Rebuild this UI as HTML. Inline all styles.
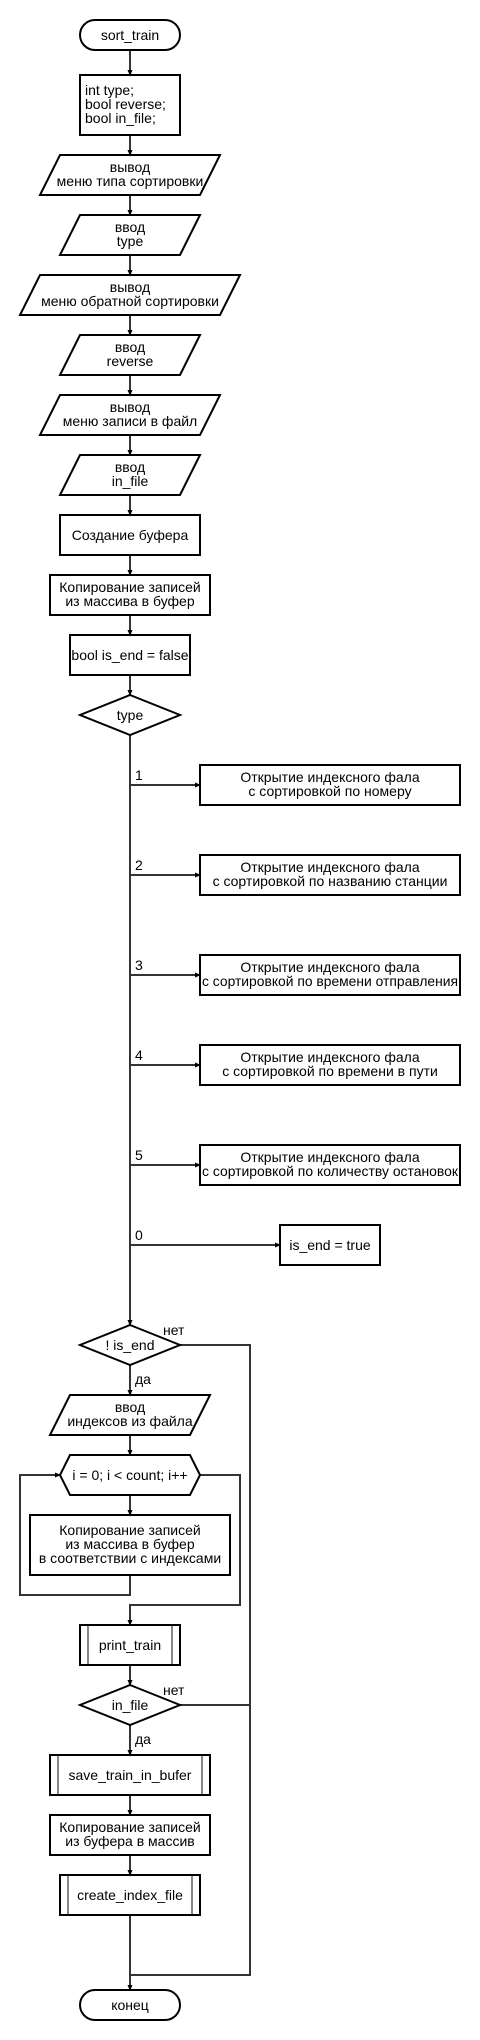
<!DOCTYPE html>
<html><head><meta charset="utf-8"><style>
html,body{margin:0;padding:0;background:#fff;}
svg{display:block;}
text{font-family:"Liberation Sans","DejaVu Sans",sans-serif;font-size:14px;fill:#000;}
.s{fill:#fff;stroke:#000;stroke-width:2;}
.c{fill:none;stroke:#333;stroke-width:2;}
.g{stroke:#888;stroke-width:2;}
</style></head><body>
<svg width="480" height="2040" viewBox="0 0 480 2040" xmlns="http://www.w3.org/2000/svg">
<defs><marker id="a" markerWidth="6" markerHeight="6" refX="5" refY="3" orient="auto" markerUnits="userSpaceOnUse"><path d="M0,0.5 L6,3 L0,5.5 z" fill="#000"/></marker></defs>
<!-- connectors main -->
<g class="c" marker-end="url(#a)">
<path d="M130,50 V75"/><path d="M130,135 V155"/><path d="M130,195 V215"/><path d="M130,255 V275"/>
<path d="M130,315 V335"/><path d="M130,375 V395"/><path d="M130,435 V455"/><path d="M130,495 V515"/>
<path d="M130,555 V575"/><path d="M130,615 V635"/><path d="M130,675 V695"/>
<path d="M130,785 H200"/><path d="M130,875 H200"/><path d="M130,975 H200"/><path d="M130,1065 H200"/><path d="M130,1165 H200"/><path d="M130,1245 H280"/>
<path d="M130,735 V1325"/>
<path d="M130,1365 V1395"/><path d="M130,1435 V1455"/><path d="M130,1495 V1515"/>
<path d="M130,1575 V1595 H20 V1475 H60"/>
<path d="M200,1475 H240 V1605 H130 V1625"/>
<path d="M130,1665 V1685"/><path d="M130,1725 V1755"/><path d="M130,1795 V1815"/><path d="M130,1855 V1875"/>
<path d="M130,1915 V1990"/>
</g>
<path class="c" d="M180,1345 H250 V1975 H130"/>
<path class="c" d="M180,1705 H250"/>
<!-- shapes -->
<rect class="s" x="80" y="20" width="100" height="30" rx="15"/>
<text x="130" y="40" text-anchor="middle">sort_train</text>
<rect class="s" x="80" y="75" width="100" height="60"/>
<text x="85" y="95">int type;</text><text x="85" y="109">bool reverse;</text><text x="85" y="123">bool in_file;</text>

<polygon class="s" points="60,155 220,155 200,195 40,195"/>
<text x="130" y="172" text-anchor="middle">вывод</text><text x="130" y="186" text-anchor="middle">меню типа сортировки</text>
<polygon class="s" points="80,215 200,215 180,255 60,255"/>
<text x="130" y="232" text-anchor="middle">ввод</text><text x="130" y="246" text-anchor="middle">type</text>
<polygon class="s" points="40,275 240,275 220,315 20,315"/>
<text x="130" y="292" text-anchor="middle">вывод</text><text x="130" y="306" text-anchor="middle">меню обратной сортировки</text>
<polygon class="s" points="80,335 200,335 180,375 60,375"/>
<text x="130" y="352" text-anchor="middle">ввод</text><text x="130" y="366" text-anchor="middle">reverse</text>
<polygon class="s" points="60,395 220,395 200,435 40,435"/>
<text x="130" y="412" text-anchor="middle">вывод</text><text x="130" y="426" text-anchor="middle">меню записи в файл</text>
<polygon class="s" points="80,455 200,455 180,495 60,495"/>
<text x="130" y="472" text-anchor="middle">ввод</text><text x="130" y="486" text-anchor="middle">in_file</text>
<rect class="s" x="60" y="515" width="140" height="40"/>
<text x="130" y="540" text-anchor="middle">Создание буфера</text>
<rect class="s" x="50" y="575" width="160" height="40"/>
<text x="130" y="592" text-anchor="middle">Копирование записей</text><text x="130" y="606" text-anchor="middle">из массива в буфер</text>
<rect class="s" x="70" y="635" width="120" height="40"/>
<text x="130" y="660" text-anchor="middle">bool is_end = false</text>
<polygon class="s" points="130,695 180,715 130,735 80,715"/>
<text x="130" y="720" text-anchor="middle">type</text>

<text x="135" y="780">1</text><text x="135" y="870">2</text><text x="135" y="970">3</text><text x="135" y="1060">4</text><text x="135" y="1160">5</text><text x="135" y="1240">0</text>
<rect class="s" x="200" y="765" width="260" height="40"/>
<text x="330" y="782" text-anchor="middle">Открытие индексного фала</text><text x="330" y="796" text-anchor="middle">с сортировкой по номеру</text>
<rect class="s" x="200" y="855" width="260" height="40"/>
<text x="330" y="872" text-anchor="middle">Открытие индексного фала</text><text x="330" y="886" text-anchor="middle">с сортировкой по названию станции</text>
<rect class="s" x="200" y="955" width="260" height="40"/>
<text x="330" y="972" text-anchor="middle">Открытие индексного фала</text><text x="330" y="986" text-anchor="middle" textLength="256" lengthAdjust="spacingAndGlyphs">с сортировкой по времени отправления</text>
<rect class="s" x="200" y="1045" width="260" height="40"/>
<text x="330" y="1062" text-anchor="middle">Открытие индексного фала</text><text x="330" y="1076" text-anchor="middle">с сортировкой по времени в пути</text>
<rect class="s" x="200" y="1145" width="260" height="40"/>
<text x="330" y="1162" text-anchor="middle">Открытие индексного фала</text><text x="330" y="1176" text-anchor="middle" textLength="256" lengthAdjust="spacingAndGlyphs">с сортировкой по количеству остановок</text>
<rect class="s" x="280" y="1225" width="100" height="40"/>
<text x="330" y="1250" text-anchor="middle">is_end = true</text>

<polygon class="s" points="130,1325 180,1345 130,1365 80,1345"/>
<text x="130" y="1350" text-anchor="middle">! is_end</text>
<text x="163" y="1335">нет</text><text x="135" y="1384">да</text>
<polygon class="s" points="70,1395 210,1395 190,1435 50,1435"/>
<text x="130" y="1412" text-anchor="middle">ввод</text><text x="130" y="1426" text-anchor="middle">индексов из файла</text>
<polygon class="s" points="70,1455 190,1455 200,1475 190,1495 70,1495 60,1475"/>
<text x="130" y="1480" text-anchor="middle">i = 0; i &lt; count; i++</text>
<rect class="s" x="30" y="1515" width="200" height="60"/>
<text x="130" y="1535" text-anchor="middle">Копирование записей</text><text x="130" y="1549" text-anchor="middle">из массива в буфер</text><text x="130" y="1563" text-anchor="middle">в соответствии с индексами</text>
<rect class="s" x="80" y="1625" width="100" height="40"/>
<line class="g" x1="88" y1="1626" x2="88" y2="1664"/><line class="g" x1="172" y1="1626" x2="172" y2="1664"/>
<text x="130" y="1650" text-anchor="middle">print_train</text>
<polygon class="s" points="130,1685 180,1705 130,1725 80,1705"/>
<text x="130" y="1710" text-anchor="middle">in_file</text>
<text x="163" y="1695">нет</text><text x="135" y="1744">да</text>
<rect class="s" x="50" y="1755" width="160" height="40"/>
<line class="g" x1="58" y1="1756" x2="58" y2="1794"/><line class="g" x1="202" y1="1756" x2="202" y2="1794"/>
<text x="130" y="1780" text-anchor="middle">save_train_in_bufer</text>
<rect class="s" x="50" y="1815" width="160" height="40"/>
<text x="130" y="1832" text-anchor="middle">Копирование записей</text><text x="130" y="1846" text-anchor="middle">из буфера в массив</text>
<rect class="s" x="60" y="1875" width="140" height="40"/>
<line class="g" x1="68" y1="1876" x2="68" y2="1914"/><line class="g" x1="192" y1="1876" x2="192" y2="1914"/>
<text x="130" y="1900" text-anchor="middle">create_index_file</text>
<rect class="s" x="80" y="1990" width="100" height="30" rx="15"/>
<text x="130" y="2010" text-anchor="middle">конец</text>
</svg>
</body></html>
